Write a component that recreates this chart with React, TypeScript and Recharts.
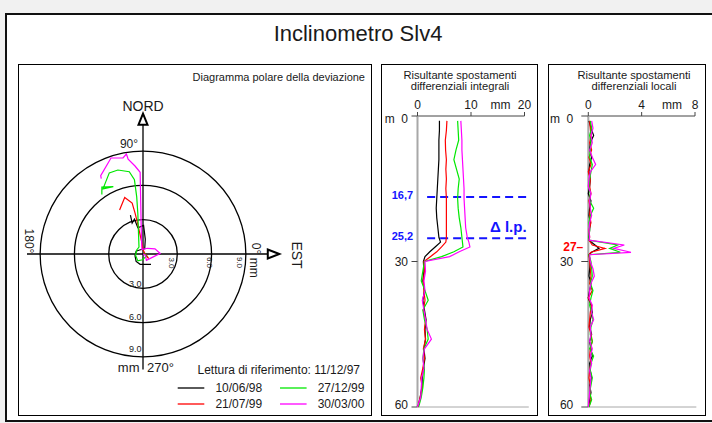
import React from 'react'
import { ScatterChart, Scatter, XAxis, YAxis, ReferenceDot, ReferenceLine } from 'recharts'

const FONT = '"Liberation Sans", Arial, Helvetica, sans-serif'
const BLUE = '#1414ff'
const INK = '#1a1a1a'

const dates = ['10/06/98', '21/07/99', '27/12/99', '30/03/00']
const colors = ['#000000', '#ff0000', '#00e800', '#ff00ff']

// polar diagram: E / N deviation in mm, top of hole first
const polarBlack = [
  [-1.1, 3.4], [-0.95, 2.7], [-0.75, 3.05], [-0.45, 2.3], [0.05, 2.5], [0.2, 1.3], [0.15, 0.45],
  [-0.3, 0.35], [-0.6, 0.25], [-0.7, -0.15], [-0.6, -0.65], [-0.25, -0.9], [0.7, -0.9],
]
const polarRed = [
  [-2.05, 3.85], [-1.6, 4.95], [-0.95, 4.45], [-0.7, 3.6], [-0.45, 2.6], [-0.3, 1.9], [-0.1, 1.0],
  [0.0, 0.4], [0.25, -0.15], [0.5, -0.4], [0.3, -0.1], [0.05, 0.05],
]
const polarGreen = [
  [-3.6, 5.2], [-3.6, 5.85], [-2.6, 5.9], [-3.5, 5.7], [-2.95, 7.1], [-2.2, 7.35], [-1.2, 7.2],
  [-0.75, 6.5], [-0.55, 5.0], [-0.45, 3.5], [-0.4, 2.0], [-0.35, 0.6], [-0.55, 0.35], [-0.65, -0.1],
  [-0.45, -0.6], [-0.05, -0.5], [0.3, -0.2], [0.1, 0.05],
]
const polarMagenta = [
  [-3.65, 6.6], [-3.7, 6.85], [-2.8, 8.4], [-1.75, 8.4], [-1.45, 8.75], [-1.3, 8.3], [-0.7, 7.7],
  [-0.25, 7.15], [-0.2, 4.5], [-0.15, 2.0], [-0.1, 0.4], [0.4, 0.5], [1.05, 0.45], [1.5, 0.05],
  [0.9, -0.25], [0.3, -0.55], [0.2, -0.1], [0.0, 0.0],
]
const polarRings = [3, 6, 9]

// integral displacement (mm) vs depth (m)
const integralDepths = [1, 3, 5, 7, 9, 11, 13, 15, 17, 19, 21, 23, 25, 26, 27, 28, 29, 30, 32, 34, 36, 38, 40, 42, 44, 46, 48, 50, 52, 54, 56, 58, 60]
const integralBlack = [4.1, 4.1, 4.0, 4.0, 4.0, 3.9, 3.8, 3.7, 3.6, 3.5, 3.6, 3.8, 4.0, 4.3, 3.3, 2.3, 1.4, 1.1, 1.2, 1.0, 1.3, 1.0, 1.3, 1.6, 1.4, 1.5, 1.2, 1.4, 1.1, 0.9, 0.8, 0.5, 0.1]
const integralRed = [5.5, 5.4, 5.2, 5.25, 5.4, 5.3, 5.4, 5.3, 5.4, 5.4, 5.4, 5.4, 5.4, 5.3, 4.5, 3.6, 2.4, 1.2, 1.3, 1.1, 1.2, 1.4, 1.1, 1.5, 1.3, 1.5, 1.1, 1.3, 1.0, 0.6, 0.9, 0.5, 0.1]
const integralGreen = [7.5, 7.6, 7.7, 7.2, 6.8, 7.3, 7.8, 7.6, 7.5, 7.6, 7.8, 8.1, 8.3, 8.4, 8.5, 6.8, 4.5, 1.3, 1.0, 0.7, 1.4, 2.0, 1.0, 1.3, 1.8, 2.0, 1.2, 1.0, 1.3, 1.2, 1.0, 0.7, 0.2]
const integralMagenta = [8.1, 8.2, 8.3, 8.3, 8.4, 8.5, 8.6, 8.7, 8.7, 8.8, 8.9, 9.0, 9.3, 9.6, 9.8, 7.8, 6.0, 1.4, 1.5, 1.2, 1.4, 0.9, 1.2, 1.5, 1.8, 2.6, 1.3, 1.0, 1.2, 0.8, 0.7, 0.6, 0.0]

// local displacement (mm) vs depth (m)
const localDepths = [1, 2.5, 4, 5.5, 7, 8.5, 10, 11.5, 13, 14.5, 16, 17.5, 19, 20.5, 22, 23.5, 25, 25.6, 26.6, 27.3, 28.1, 28.6, 30, 31.5, 33, 34.5, 36, 37.5, 39, 40.5, 42, 43.5, 45, 46.5, 48, 49.5, 51, 52.5, 54, 55.5, 57, 58.5, 60]
const localBlack = [
  0.05, 0.2, 0.4, 0.15, 0.1, 0.25, 0.1, 0.05, 0.15, 0.1,
  0.0, 0.2, 0.1, 0.05, 0.15, 0.1, 0.05, 0.05, 0.5, 0.8,
  0.25, 0.05, 0.15, 0.1, 0.05, 0.2, 0.1, 0.0, 0.2, 0.3,
  0.15, 0.1, 0.25, 0.1, 0.2, 0.3, 0.1, 0.15, 0.25, 0.1,
  0.2, 0.1, 0.05,
]
const localRed = [
  0.1, 0.15, 0.2, 0.1, 0.25, 0.05, 0.2, 0.0, 0.15, 0.1,
  0.2, 0.05, 0.15, 0.1, 0.2, 0.05, 0.1, 0.05, 0.3, 1.25,
  0.2, 0.05, 0.1, 0.15, 0.2, 0.1, 0.3, 0.0, 0.25, 0.15,
  0.1, 0.05, 0.2, 0.3, 0.15, 0.1, 0.2, 0.1, 0.05, 0.15,
  0.1, 0.2, 0.05,
]
const localGreen = [
  0.15, 0.25, 0.1, 0.2, 0.15, 0.1, 0.3, 0.2, 0.1, 0.05,
  0.15, 0.1, 0.4, 0.15, 0.05, 0.1, 0.05, 0.05, 2.2, 1.6,
  2.4, 0.05, 0.2, 0.25, 0.3, 0.15, 0.35, 0.2, 0.1, 0.25,
  0.35, 0.2, 0.15, 0.3, 0.1, 0.4, 0.2, 0.15, 0.3, 0.2,
  0.1, 0.25, 0.05,
]
const localMagenta = [
  0.25, 0.35, 0.2, 0.3, 0.1, 0.3, 0.55, 0.15, 0.05, 0.0,
  0.2, 0.1, 0.15, 0.25, 0.1, 0.05, 0.1, 0.05, 2.7, 1.9,
  3.2, 0.1, 0.15, 0.35, 0.45, 0.2, 0.1, 0.05, 0.3, 0.25,
  0.4, 0.15, 0.2, 0.1, 0.3, 0.15, 0.25, 0.1, 0.2, 0.15,
  0.1, 0.05, 0.0,
]

const limitDepths = [16.7, 25.2]
const limitLabels = ['16,7', '25,2']
const shearDepth = 27

const polarSeries = [polarBlack, polarRed, polarGreen, polarMagenta]
const integralSeries = [integralBlack, integralRed, integralGreen, integralMagenta]
const localSeries = [localBlack, localRed, localGreen, localMagenta]

const toXY = (pts: number[][]) => pts.map(([x, y]) => ({ x, y }))
const profile = (depths: number[], vals: number[]) => depths.map((d, i) => ({ x: vals[i], y: d }))

const POLAR_PLOT = 240
const POLAR_MAX = 10.5
const mmPx = POLAR_PLOT / (2 * POLAR_MAX)

const noDot = () => <g />

const arrowUp = (p: any) => (
  <path d={`M${p.cx},${p.cy - 5.5} L${p.cx + 4.5},${p.cy + 5.5} L${p.cx - 4.5},${p.cy + 5.5} Z`} fill="#fff" stroke="#000" strokeWidth={2} />
)
const arrowRight = (p: any) => (
  <path d={`M${p.cx + 6},${p.cy} L${p.cx - 5.5},${p.cy - 4.5} L${p.cx - 5.5},${p.cy + 4.5} Z`} fill="#fff" stroke="#000" strokeWidth={2} />
)

const txt = { fontFamily: FONT, fill: INK }

function TopTick(props: any) {
  const { x, y, payload, unitAt, unitGap } = props
  return (
    <g>
      {payload.value === unitAt && (
        <text x={x - unitGap} y={y} textAnchor="end" fontSize={12} {...txt}>mm</text>
      )}
      <text x={x} y={y} textAnchor="middle" fontSize={12} {...txt}>{payload.value}</text>
    </g>
  )
}

function DepthTick(props: any) {
  const { x, y, payload } = props
  const v = payload.value
  const dy = v === 0 ? 7 : v === 60 ? 2 : 4.5
  return (
    <text x={x} y={y + dy} textAnchor="end" fontSize={12} {...txt}>
      {v === 0 ? 'm\u00a0\u00a00' : v}
    </text>
  )
}

function LimitLabel(props: any) {
  const { viewBox, text } = props
  return (
    <text x={viewBox.x - 14} y={viewBox.y + 2} textAnchor="end" fontSize={11} fontWeight="bold" fill={BLUE} fontFamily={FONT}>
      {text}
    </text>
  )
}

const shearMark = (p: any) => (
  <text x={p.cx - 5} y={p.cy + 4.5} textAnchor="end" fontSize={12} fontWeight="bold" fill="#ff0000" fontFamily={FONT}>
    27–
  </text>
)

function PolarDiagram() {
  return (
    <ScatterChart width={354} height={352} margin={{ top: 70, right: 109, bottom: 42, left: 5 }}>
      <XAxis type="number" dataKey="x" domain={[-POLAR_MAX, POLAR_MAX]} hide />
      <YAxis type="number" dataKey="y" domain={[-POLAR_MAX, POLAR_MAX]} hide />
      {polarRings.map((r) => (
        <ReferenceDot key={r} x={0} y={0} r={r * mmPx} fill="none" stroke="#000" strokeWidth={1.3} ifOverflow="visible" />
      ))}
      <ReferenceLine segment={[{ x: -10.15, y: 0 }, { x: 10.95, y: 0 }]} stroke="#000" strokeWidth={1.3} ifOverflow="visible" />
      <ReferenceLine segment={[{ x: 0, y: 11.35 }, { x: 0, y: -10.1 }]} stroke="#000" strokeWidth={1.3} ifOverflow="visible" />
      <ReferenceDot x={0} y={11.8} shape={arrowUp} ifOverflow="visible" />
      <ReferenceDot x={11.4} y={0} shape={arrowRight} ifOverflow="visible" />
      {polarSeries.map((pts, i) => (
        <Scatter
          key={dates[i]}
          data={toXY(pts)}
          fill={colors[i]}
          line={{ stroke: colors[i], strokeWidth: 1.2 }}
          shape={noDot}
          isAnimationActive={false}
        />
      ))}
    </ScatterChart>
  )
}

function IntegralProfile() {
  return (
    <ScatterChart width={155} height={352} margin={{ top: 32, right: 12.5, bottom: 9, left: 5.5 }}>
      <XAxis
        type="number"
        dataKey="x"
        orientation="top"
        domain={[0, 20]}
        ticks={[0, 10, 20]}
        interval={0}
        height={20}
        axisLine={{ stroke: '#444' }}
        tickLine={{ stroke: '#444' }}
        tickSize={4}
        tickMargin={3}
        tick={<TopTick unitAt={20} unitGap={14} />}
      />
      <YAxis
        type="number"
        dataKey="y"
        domain={[0, 60]}
        reversed
        ticks={[0, 30, 60]}
        interval={0}
        width={30}
        axisLine={{ stroke: '#a8a8a8', strokeWidth: 2 }}
        tickLine={{ stroke: '#444' }}
        tickSize={6}
        tickMargin={3.5}
        tick={<DepthTick />}
      />
      <ReferenceLine segment={[{ x: 0, y: 60 }, { x: 20.8, y: 60 }]} stroke="#a8a8a8" ifOverflow="visible" />
      {limitDepths.map((d, i) => (
        <ReferenceLine
          key={d}
          segment={[{ x: 1.8, y: d }, { x: 21.2, y: d }]}
          stroke={BLUE}
          strokeWidth={2}
          strokeDasharray="8 5"
          ifOverflow="visible"
          label={<LimitLabel text={limitLabels[i]} />}
        />
      ))}
      {integralSeries.map((vals, i) => (
        <Scatter
          key={dates[i]}
          data={profile(integralDepths, vals)}
          fill={colors[i]}
          line={{ stroke: colors[i], strokeWidth: 1.2 }}
          shape={noDot}
          isAnimationActive={false}
        />
      ))}
    </ScatterChart>
  )
}

function LocalProfile() {
  return (
    <ScatterChart width={156} height={352} margin={{ top: 32, right: 10, bottom: 9, left: 1.3 }}>
      <XAxis
        type="number"
        dataKey="x"
        orientation="top"
        domain={[0, 8]}
        ticks={[0, 4, 8]}
        interval={0}
        height={20}
        axisLine={{ stroke: '#444' }}
        tickLine={{ stroke: '#444' }}
        tickSize={4}
        tickMargin={3}
        tick={<TopTick unitAt={8} unitGap={13} />}
      />
      <YAxis
        type="number"
        dataKey="y"
        domain={[0, 60]}
        reversed
        ticks={[0, 30, 60]}
        interval={0}
        width={38}
        axisLine={{ stroke: '#a8a8a8', strokeWidth: 2 }}
        tickLine={{ stroke: '#444' }}
        tickSize={7}
        tickMargin={8}
        tick={<DepthTick />}
      />
      <ReferenceLine segment={[{ x: 0, y: 60 }, { x: 8.1, y: 60 }]} stroke="#a8a8a8" ifOverflow="visible" />
      <ReferenceDot x={0} y={shearDepth} shape={shearMark} ifOverflow="visible" />
      {localSeries.map((vals, i) => (
        <Scatter
          key={dates[i]}
          data={profile(localDepths, vals)}
          fill={colors[i]}
          line={{ stroke: colors[i], strokeWidth: 1.2 }}
          shape={noDot}
          isAnimationActive={false}
        />
      ))}
    </ScatterChart>
  )
}

const rot = (x: number, y: number) => `translate(${x},${y}) rotate(90)`

function Overlay() {
  return (
    <svg width={712} height={423} style={{ position: 'absolute', left: 0, top: 0, pointerEvents: 'none' }}>
      <text x={358} y={41} textAnchor="middle" fontSize={22} {...txt}>Inclinometro Slv4</text>

      {/* polar panel */}
      <text x={365} y={81} textAnchor="end" fontSize={11} {...txt}>Diagramma polare della deviazione</text>
      <text x={143} y={110.5} textAnchor="middle" fontSize={14} {...txt}>NORD</text>
      <text x={129} y={148} textAnchor="middle" fontSize={12} {...txt}>90°</text>
      <text transform={rot(28.7, 241)} textAnchor="middle" dominantBaseline="central" fontSize={12} {...txt}>180°</text>
      <text transform={rot(256, 248.5)} textAnchor="middle" dominantBaseline="central" fontSize={12} {...txt}>0°</text>
      <text transform={rot(297, 255)} textAnchor="middle" dominantBaseline="central" fontSize={14} {...txt}>EST</text>
      <text transform={rot(254, 267.7)} textAnchor="middle" dominantBaseline="central" fontSize={12} {...txt}>mm</text>
      <text transform={rot(171.5, 263)} textAnchor="middle" dominantBaseline="central" fontSize={8} {...txt}>3.0</text>
      <text transform={rot(209.5, 262.5)} textAnchor="middle" dominantBaseline="central" fontSize={8} {...txt}>6.0</text>
      <text transform={rot(239.5, 262.5)} textAnchor="middle" dominantBaseline="central" fontSize={8} {...txt}>9.0</text>
      <text x={141.5} y={287} textAnchor="end" fontSize={9} {...txt}>3.0</text>
      <text x={141.5} y={320} textAnchor="end" fontSize={9} {...txt}>6.0</text>
      <text x={141.5} y={351.5} textAnchor="end" fontSize={9} {...txt}>9.0</text>
      <text x={139.5} y={371.5} textAnchor="end" fontSize={13} {...txt}>mm</text>
      <text x={147} y={371.5} fontSize={13} {...txt}>270°</text>

      <text x={197.5} y={374} fontSize={12} {...txt}>Lettura di riferimento: 11/12/97</text>
      {dates.map((d, i) => {
        const col = i < 2 ? 0 : 1
        const row = i % 2
        const lx = 177.7 + col * 102.3
        const ly = 388 + row * 16
        return (
          <g key={d}>
            <line x1={lx} x2={lx + 26.6} y1={ly} y2={ly} stroke={colors[i]} strokeWidth={1.3} />
            <text x={lx + 37.7} y={ly + 4.3} fontSize={12} {...txt}>{d}</text>
          </g>
        )
      })}

      {/* profile panels */}
      <text x={460} y={78.5} textAnchor="middle" fontSize={11.2} {...txt}>Risultante spostamenti</text>
      <text x={460} y={89.5} textAnchor="middle" fontSize={11.2} {...txt}>differenziali integrali</text>
      <text x={490} y={232} fontSize={15} fontWeight="bold" fill={BLUE} fontFamily={FONT}>Δ l.p.</text>

      <text x={634} y={78.5} textAnchor="middle" fontSize={11.2} {...txt}>Risultante spostamenti</text>
      <text x={634} y={89.5} textAnchor="middle" fontSize={11.2} {...txt}>differenziali locali</text>
    </svg>
  )
}

const panel = (left: number, width: number): React.CSSProperties => ({
  position: 'absolute',
  left,
  top: 64,
  width,
  height: 352,
  boxSizing: 'border-box',
  border: '1px solid #000',
  background: '#fff',
})

export default function App() {
  return (
    <div style={{ position: 'absolute', left: 0, top: 0, width: 712, height: 423, overflow: 'hidden', background: '#f1f1f1', fontFamily: FONT }}>
      <div style={{ position: 'absolute', left: 5, top: 13, width: 712, height: 409, boxSizing: 'border-box', border: '2px solid #111', background: '#fff' }} />
      <div style={panel(18, 354)} />
      <div style={panel(381, 157)} />
      <div style={panel(548, 158)} />
      <div style={{ position: 'absolute', left: 18, top: 64 }}>
        <PolarDiagram />
      </div>
      <div style={{ position: 'absolute', left: 382, top: 64 }}>
        <IntegralProfile />
      </div>
      <div style={{ position: 'absolute', left: 549, top: 64 }}>
        <LocalProfile />
      </div>
      <Overlay />
    </div>
  )
}
